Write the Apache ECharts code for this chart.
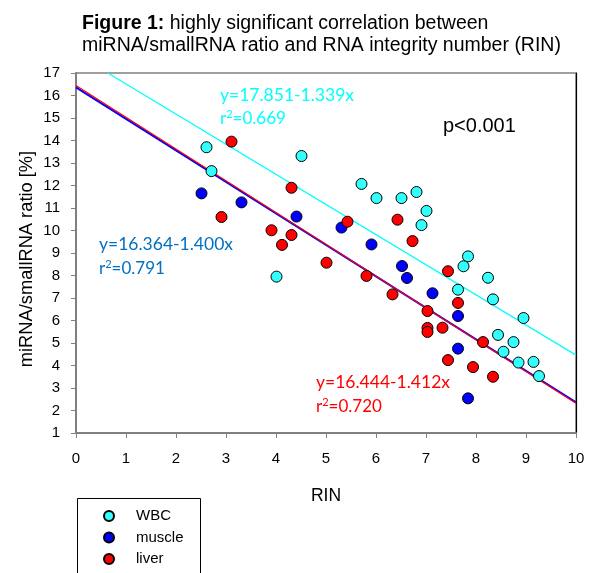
<!DOCTYPE html>
<html><head><meta charset="utf-8">
<script src="https://cdn.jsdelivr.net/npm/echarts@6/dist/echarts.min.js"></script>
<style>html,body{margin:0;padding:0;background:#fff}#c{width:590px;height:573px}</style>
</head><body><div id="c"></div>
<script>
// data: [RIN, ratio %]
const wbc = [[2.61,13.70],[2.71,12.64],[4.51,13.31],[4.01,7.95],[5.71,12.07],[6.01,11.44],[6.51,11.44],[6.81,11.71],[7.01,10.87],[6.91,10.24],[7.84,8.85],[7.75,8.41],[8.24,7.90],[7.64,7.37],[8.34,6.94],[8.95,6.11],[8.44,5.36],[8.75,5.04],[8.55,4.61],[8.85,4.13],[9.15,4.16],[9.26,3.53]];
const muscle = [[2.51,11.65],[3.31,11.25],[4.41,10.62],[5.31,10.13],[5.91,9.38],[6.52,8.42],[6.62,7.89],[7.13,7.21],[7.64,6.20],[7.64,4.75],[7.84,2.54]];
const liver = [[3.11,13.95],[4.31,11.90],[2.91,10.60],[3.91,10.01],[4.31,9.80],[4.12,9.36],[5.43,10.39],[5.01,8.57],[5.81,7.98],[6.43,10.48],[6.73,9.53],[7.44,8.19],[6.33,7.16],[7.64,6.78],[7.03,6.42],[7.03,5.67],[7.03,5.49],[7.33,5.68],[8.14,5.04],[7.44,4.24],[7.94,3.93],[8.34,3.50]];
// regression lines (endpoints)
const wbcFit = [[0.636,17],[10,4.461]];
const muscleFit = [[0,16.364],[10,2.364]];
const liverFit = [[0,16.444],[10,2.324]];
const seriesNames = ['WBC','muscle','liver'];
const xTicks = {min:0,max:10,interval:1};
const yTicks = {min:1,max:17,interval:1};

const chart = echarts.init(document.getElementById('c'));
const F = 'Liberation Sans, Arial, sans-serif';
const A = 'Lato, Carlito, Calibri, sans-serif';
const mk = (name, data, color) => ({name, type:'scatter', data, symbol:'circle', symbolSize:11,
  itemStyle:{color, borderColor:'#000', borderWidth:1, opacity:1}, z:5});
const ln = (data, color, w, z) => ({type:'line', data, showSymbol:false, symbol:'none', lineStyle:{color, width:w}, z, silent:true, clip:true});
const r2 = (t, c) => ({text:'r{s|2}=' + t, fontSize:17, fontFamily:A, fill:c,
  rich:{s:{fontSize:11, verticalAlign:'top', padding:[0,0,8,0], fill:c, fontFamily:A}}});
chart.setOption({
  animation:false,
  textStyle:{fontFamily:F},
  title:{left:77, top:8, text:'{b|Figure 1:} highly significant correlation between\nmiRNA/smallRNA ratio and RNA integrity number (RIN)',
    textStyle:{fontSize:19.5, fontWeight:'normal', color:'#000', lineHeight:22, fontFamily:F,
      rich:{b:{fontWeight:'bold', fontSize:19.5, fontFamily:F, color:'#000', lineHeight:22}}}},
  grid:{left:76, top:73, width:500, height:360, show:true, borderColor:'#808080', borderWidth:1.5},
  xAxis:{type:'value', min:xTicks.min, max:xTicks.max, interval:xTicks.interval,
    name:'RIN', nameLocation:'middle', nameGap:54, nameMoveOverlap:false, nameTextStyle:{fontSize:17.5, color:'#000', fontFamily:F},
    axisLine:{lineStyle:{color:'#808080', width:2}}, axisTick:{show:true, length:5, lineStyle:{color:'#808080'}},
    axisLabel:{fontSize:15, color:'#000', margin:18, fontFamily:F}, splitLine:{show:false}},
  yAxis:[{type:'value', min:yTicks.min, max:yTicks.max, interval:yTicks.interval,
    name:'miRNA/smallRNA ratio [%]', nameLocation:'middle', nameGap:40, nameMoveOverlap:false,
    nameTextStyle:{fontSize:18.3, color:'#000', fontFamily:F, padding:[0,12,0,0]},
    axisLine:{show:true, lineStyle:{color:'#808080', width:2}}, axisTick:{show:true, length:5, lineStyle:{color:'#808080'}},
    axisLabel:{fontSize:15, color:'#000', margin:16, fontFamily:F}, splitLine:{show:false}},
    {type:'value', position:'right', min:yTicks.min, max:yTicks.max, axisLine:{show:true, lineStyle:{color:'#000', width:1.2}},
     axisTick:{show:false}, axisLabel:{show:false}, splitLine:{show:false}}],
  legend:{data:seriesNames, orient:'vertical', left:103, top:508, itemWidth:10, itemHeight:10, itemGap:5.5,
    padding:0, icon:'circle',
    textStyle:{fontSize:15, lineHeight:16, color:'#000', fontFamily:F, padding:[0,0,0,17]}},
  graphic:[
    {type:'rect', left:75, top:496, shape:{width:123, height:100}, style:{fill:'none', stroke:'#000', lineWidth:1}, z:-1},
    {type:'text', left:220, top:86, style:{text:'y=17.851-1.339x', fontSize:17.5, fontFamily:A, fill:'#00FFFF'}},
    {type:'text', left:220, top:109, style:r2('0.669','#00FFFF')},
    {type:'text', left:99, top:235, style:{text:'y=16.364-1.400x', fontSize:17.5, fontFamily:A, fill:'#0070C0'}},
    {type:'text', left:99, top:259, style:r2('0.791','#0070C0')},
    {type:'text', left:316, top:373, style:{text:'y=16.444-1.412x', fontSize:17.5, fontFamily:A, fill:'#FF0000'}},
    {type:'text', left:316, top:397, style:r2('0.720','#FF0000')},
    {type:'text', left:443, top:116, style:{text:'p<0.001', fontSize:20, fontFamily:F, fill:'#000'}}
  ],
  series:[
    ln(wbcFit,'#00FFFF',1.3,2), ln(muscleFit,'#0000FF',2,2), ln(liverFit,'#FF0000',1.2,3),
    mk('WBC', wbc, '#33FFFF'), mk('muscle', muscle, '#0000FF'), mk('liver', liver, '#FF0000')
  ]
});
</script></body></html>
